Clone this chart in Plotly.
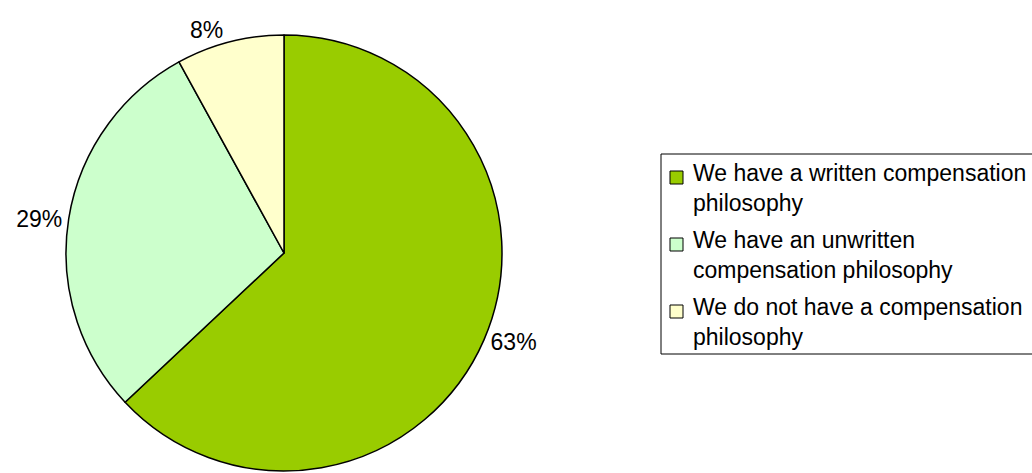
import plotly.graph_objects as go

categories = [
    "We have a written compensation<br>philosophy",
    "We have an unwritten<br>compensation philosophy",
    "We do not have a compensation<br>philosophy",
]
shares = [63, 29, 8]
colors = ["#99CC00", "#CCFFCC", "#FFFFCC"]

W, H = 1032, 473
cx, cy, r = 284, 253, 218
FONT = "Arial, Liberation Sans, sans-serif"
FS = 23

fig = go.Figure(
    go.Pie(
        labels=categories,
        values=shares,
        sort=False,
        direction="clockwise",
        rotation=0,
        marker=dict(colors=colors, line=dict(color="black", width=1.5)),
        texttemplate="%{value}%",
        textposition="outside",
        outsidetextfont=dict(size=FS, color="black", family=FONT),
        hoverinfo="label+percent",
        showlegend=False,
        domain=dict(x=[(cx - r) / W, (cx + r) / W], y=[1 - (cy + r) / H, 1 - (cy - r) / H]),
    )
)

# Legend panel drawn by hand so the entry spacing follows the chart's layout
box_l, box_t, box_b, box_r = 661, 154, 354, 1040
item_top0, item_step = 159, 67
sw_l, sw_size, sw_top0 = 670, 13, 171

shapes = [
    dict(type="rect", xref="paper", yref="paper",
         x0=box_l / W, x1=box_r / W, y0=1 - box_b / H, y1=1 - box_t / H,
         line=dict(color="black", width=1), fillcolor="white", layer="below")
]
annotations = []
for i, (name, col) in enumerate(zip(categories, colors)):
    st = sw_top0 + i * item_step
    shapes.append(dict(type="rect", xref="paper", yref="paper",
                       x0=sw_l / W, x1=(sw_l + sw_size) / W,
                       y0=1 - (st + sw_size) / H, y1=1 - st / H,
                       line=dict(color="black", width=1), fillcolor=col))
    annotations.append(dict(
        text=name, xref="paper", yref="paper",
        x=692 / W, y=1 - (item_top0 + i * item_step) / H,
        xanchor="left", yanchor="top", align="left", showarrow=False,
        font=dict(family=FONT, size=FS, color="black"), borderpad=0,
    ))

fig.update_layout(
    width=W,
    height=H,
    margin=dict(l=0, r=0, t=0, b=0, autoexpand=False),
    paper_bgcolor="white",
    plot_bgcolor="white",
    font=dict(family=FONT, size=FS, color="black"),
    shapes=shapes,
    annotations=annotations,
    showlegend=False,
)

fig.write_html("out.html")
